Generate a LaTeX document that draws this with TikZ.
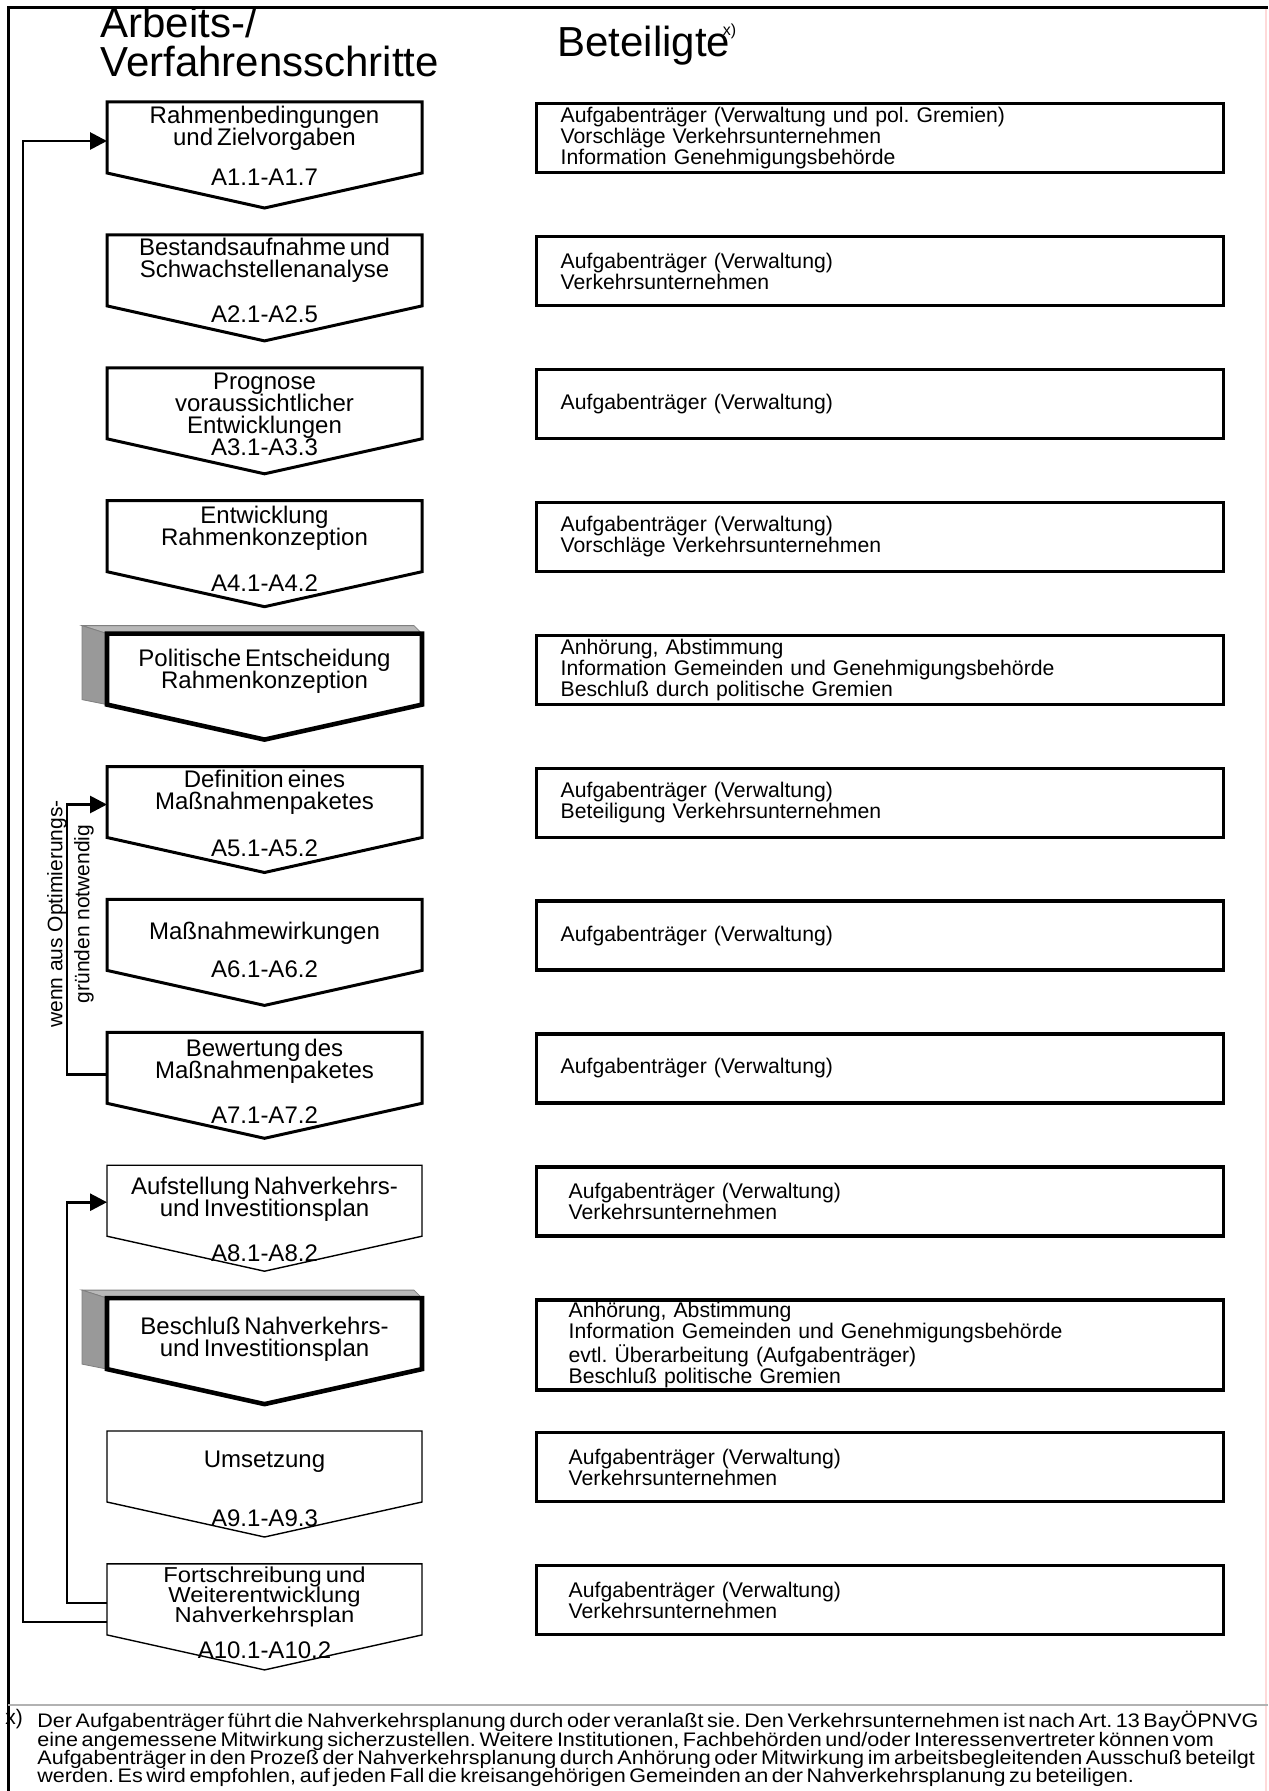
\documentclass[tikz,border=0pt]{standalone}
\usepackage{fontspec}
\setmainfont{Liberation Sans}[WordSpace={0.6,0.4,0.4}]
\newfontfamily\plainfont{Liberation Sans}
\newfontfamily\widefont{Liberation Sans}[FakeStretch=1.1, WordSpace={0.6,0.4,0.4}]
\usetikzlibrary{arrows.meta,positioning,calc}
\definecolor{facegray}{gray}{0.6}
\definecolor{topgray}{gray}{0.72}
\tikzset{
    %Define standard arrow tip
    >={Triangle[length=8.5pt,width=8.5pt]},
    %Define style for the step boxes (outline is drawn afterwards)
    stepbox/.style={
           rectangle,
           minimum width=157.5pt,
           minimum height=35.5pt,
           inner sep=0pt,
           outer sep=0pt},
    steptext/.style={
           align=center,
           inner sep=0pt,
           font=\fontsize{12}{11}\selectfont},
    % Define style for the chevron outlines
    chevron/.style={draw=black, line width=1.5pt, fill=white},
    chevronthin/.style={draw=black, line width=0.7pt, fill=white},
    chevronbold/.style={draw=black, line width=2.3pt, fill=white},
    face/.style={fill=facegray, draw=gray, line width=0.4pt},
    % Define style for the boxes on the right
    partbox/.style={
           rectangle,
           draw=black, line width=1.7pt,
           minimum height=34.5pt,
           text width=319.5pt,
           inner xsep=12pt,
           inner ysep=1pt,
           align=left,
           font=\fontsize{10.6}{10.6}\selectfont},
    % Define arrow style
    pil/.style={
           ->,
           line width=1.4pt},
    headline/.style={
           align=left,
           inner sep=0pt,
           font=\fontsize{21}{19.5}\selectfont}
}

\begin{document}
\frenchspacing
\lineskiplimit=-20pt
\begin{tikzpicture}[x=0.5pt,y=-0.5pt,node distance=30.95pt]
  \useasboundingbox (0,0) rectangle (1268,1791);
  % frame
  \draw[line width=1.5pt] (8,1791) -- (8,8) -- (1268,8);
  \draw[red!15, line width=0.6pt] (1266,9) -- (1266,1791);
  \draw[gray!60, line width=1pt] (8,1705) -- (1268,1705);

  % headlines
  \node[headline, anchor=north west] (hl) at (100,7) {Arbeits-/\\Verfahrensschritte};
  \node[headline, anchor=base west] (hr) at (557,57) {Beteiligte};
  \node[inner sep=0pt, anchor=base west, font=\fontsize{8}{8}\selectfont] (hx) at ([xshift=-4pt,yshift=10.5pt]hr.base east) {x)};

  % steps
  \node[stepbox] (s1) at (264.5,137.5) {};
  \node[stepbox] (s2) [below=of s1] {};
  \node[stepbox] (s3) [below=of s2] {};
  \node[stepbox] (s4) [below=of s3] {};
  \node[stepbox] (s5) [below=of s4] {};
  \node[stepbox] (s6) [below=of s5] {};
  \node[stepbox] (s7) [below=of s6] {};
  \node[stepbox] (s8) [below=of s7] {};
  \node[stepbox] (s9) [below=of s8] {};
  \node[stepbox] (s10) [below=of s9] {};
  \node[stepbox] (s11) [below=of s10] {};
  \node[stepbox] (s12) [below=of s11] {};

  \foreach \n in {s5,s10}{
    \filldraw[face, fill=topgray] (\n.north west) -- ++(-25,-8) -- ($(\n.north east)+(-8,-8)$) -- (\n.north east) -- cycle;
    \filldraw[face] (\n.north west) -- ++(-25,-8) -- ($(\n.south west)+(-25,-5)$) -- (\n.south west) -- cycle;
  }
  \foreach \n/\st in {s1/chevron,s2/chevron,s3/chevron,s4/chevron,s5/chevronbold,s6/chevron,
                      s7/chevron,s8/chevron,s9/chevronthin,s10/chevronbold,s11/chevronthin,s12/chevronthin}
    \draw[\st] (\n.north west) -- (\n.north east) -- (\n.south east) -- ($(\n.south)+(0,35)$) -- (\n.south west) -- cycle;

  \node[steptext] (t1) at ($(s1.north)+(0,26)$) {Rahmenbedingungen\\und Zielvorgaben};
  \node[steptext] (c1) at ($(s1.north)+(0,75)$) {A1.1-A1.7};
  \node[steptext] (t2) at ($(s2.north)+(0,25)$) {Bestandsaufnahme und\\Schwachstellenanalyse};
  \node[steptext] (c2) at ($(s2.north)+(0,79)$) {A2.1-A2.5};
  \node[steptext] (t3) at ($(s3.north)+(0,47)$) {Prognose\\voraussichtlicher\\Entwicklungen\\A3.1-A3.3};
  \node[steptext] (t4) at ($(s4.north)+(0,28)$) {Entwicklung\\Rahmenkonzeption};
  \node[steptext] (c4) at ($(s4.north)+(0,82)$) {A4.1-A4.2};
  \node[steptext] (t5) at ($(s5.north)+(0,38)$) {Politische Entscheidung\\Rahmenkonzeption};
  \node[steptext] (t6) at ($(s6.north)+(0,26)$) {Definition eines\\Maßnahmenpaketes};
  \node[steptext] (c6) at ($(s6.north)+(0,82)$) {A5.1-A5.2};
  \node[steptext] (t7) at ($(s7.north)+(0,34)$) {Maßnahmewirkungen};
  \node[steptext] (c7) at ($(s7.north)+(0,70)$) {A6.1-A6.2};
  \node[steptext] (t8) at ($(s8.north)+(0,29)$) {Bewertung des\\Maßnahmenpaketes};
  \node[steptext] (c8) at ($(s8.north)+(0,83)$) {A7.1-A7.2};
  \node[steptext] (t9) at ($(s9.north)+(0,34)$) {Aufstellung Nahverkehrs-\\und Investitionsplan};
  \node[steptext] (c9) at ($(s9.north)+(0,88)$) {A8.1-A8.2};
  \node[steptext] (t10) at ($(s10.north)+(0,41)$) {Beschluß Nahverkehrs-\\und Investitionsplan};
  \node[steptext] (t11) at ($(s11.north)+(0,31)$) {Umsetzung};
  \node[steptext] (c11) at ($(s11.north)+(0,87)$) {A9.1-A9.3};
  \node[steptext, font=\widefont\fontsize{10.8}{9.8}\selectfont] (t12) at ($(s12.north)+(0,33)$) {Fortschreibung und\\Weiterentwicklung\\Nahverkehrsplan};
  \node[steptext] (c12) at ($(s12.north)+(0,86)$) {A10.1-A10.2};

  % loops back
  \draw[pil] ($(s12.north west)+(0,58)$) -- ++(-84,0) |- ($(s1.north west)+(0,39)$);
  \draw[pil] ($(s12.north west)+(0,39)$) -- ++(-40,0) |- ($(s9.north west)+(0,37)$);
  \draw[pil] ($(s8.north west)+(0,42)$) -- ++(-40,0) |- ($(s6.north west)+(0,38)$);
  \node[rotate=90, align=center, inner sep=0pt, font=\plainfont\fontsize{10.5}{13.5}\selectfont] (why) at (70.5,914) {wenn aus Optimierungs-\\gründen notwendig};

  % participants
  \node[partbox, right=56.5pt of s1.north east, anchor=north west] (p1) {Aufgabenträger (Verwaltung und pol. Gremien)\\Vorschläge Verkehrsunternehmen\\Information Genehmigungsbehörde};
  \node[partbox, right=56.5pt of s2.north east, anchor=north west] (p2) {Aufgabenträger (Verwaltung)\\Verkehrsunternehmen};
  \node[partbox, right=56.5pt of s3.north east, anchor=north west] (p3) {Aufgabenträger (Verwaltung)};
  \node[partbox, right=56.5pt of s4.north east, anchor=north west] (p4) {Aufgabenträger (Verwaltung)\\Vorschläge Verkehrsunternehmen};
  \node[partbox, right=56.5pt of s5.north east, anchor=north west] (p5) {Anhörung, Abstimmung\\Information Gemeinden und Genehmigungsbehörde\\Beschluß durch politische Gremien};
  \node[partbox, right=56.5pt of s6.north east, anchor=north west] (p6) {Aufgabenträger (Verwaltung)\\Beteiligung Verkehrsunternehmen};
  \node[partbox, right=56.5pt of s7.north east, anchor=north west] (p7) {Aufgabenträger (Verwaltung)};
  \node[partbox, right=56.5pt of s8.north east, anchor=north west] (p8) {Aufgabenträger (Verwaltung)};
  \node[partbox, right=56.5pt of s9.north east, anchor=north west, inner xsep=16pt, text width=311.5pt] (p9) {Aufgabenträger (Verwaltung)\\Verkehrsunternehmen};
  \node[partbox, right=56.5pt of s10.north east, anchor=north west, inner xsep=16pt, text width=311.5pt, minimum height=44pt] (p10) {Anhörung, Abstimmung\\Information Gemeinden und Genehmigungsbehörde\\evtl. Überarbeitung (Aufgabenträger)\\Beschluß politische Gremien};
  \node[partbox, right=56.5pt of s11.north east, anchor=north west, inner xsep=16pt, text width=311.5pt] (p11) {Aufgabenträger (Verwaltung)\\Verkehrsunternehmen};
  \node[partbox, right=56.5pt of s12.north east, anchor=north west, inner xsep=16pt, text width=311.5pt] (p12) {Aufgabenträger (Verwaltung)\\Verkehrsunternehmen};

  % footnote
  \node[inner sep=0pt, anchor=base west, font=\fontsize{10.5}{9}\selectfont] (fx) at (5,1724) {x)};
  \node[anchor=north west, align=left, inner sep=0pt, font=\widefont\fontsize{9.8}{9.15}\selectfont] (fn) at (37,1711)
    {Der Aufgabenträger führt die Nahverkehrsplanung durch oder veranlaßt sie. Den Verkehrsunternehmen ist nach Art. 13 BayÖPNVG\\
     eine angemessene Mitwirkung sicherzustellen. Weitere Institutionen, Fachbehörden und/oder Interessenvertreter können vom\\
     Aufgabenträger in den Prozeß der Nahverkehrsplanung durch Anhörung oder Mitwirkung im arbeitsbegleitenden Ausschuß beteilgt\\
     werden. Es wird empfohlen, auf jeden Fall die kreisangehörigen Gemeinden an der Nahverkehrsplanung zu beteiligen.};
\end{tikzpicture}
\end{document}
